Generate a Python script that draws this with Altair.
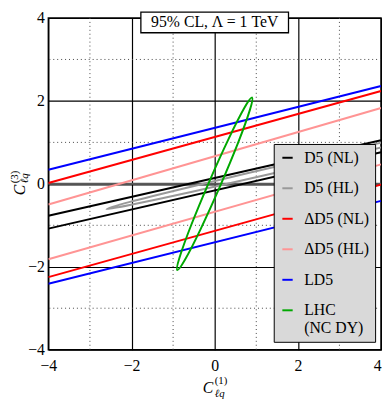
import altair as alt
import pandas as pd

# ---------------- data ----------------
series = ["D5 (NL)", "D5 (HL)", "ΔD5 (NL)", "ΔD5 (HL)", "LD5", "LHC (NC DY)"]
colors = ["#000000", "#999999", "#ff0000", "#ff9494", "#0000ff", "#00a800"]

# straight band edges (value of C3 at C1 = -4 and at C1 = +4)
band_x = [-4, 4]
band_series = ["D5 (NL)", "D5 (NL)", "ΔD5 (NL)", "ΔD5 (NL)",
               "ΔD5 (HL)", "ΔD5 (HL)", "LD5", "LD5"]
band_edge = ["d5u", "d5l", "dd5u", "dd5l", "dhu", "dhl", "ld5u", "ld5l"]
band_y_left = [-0.77, -1.08, 0.02, -2.25, -0.50, -1.82, 0.34, -2.41]
band_y_right = [1.05, 0.76, 2.24, -0.02, 1.83, 0.47, 2.36, -0.41]

# closed contours (outline points)
hl_x = [5.60, 5.04, 3.54, 1.48, -0.57, -2.06, -2.60, -2.04, -0.54, 1.52, 3.57, 5.06]
hl_y = [1.31, 1.21, 0.89, 0.42, -0.07, -0.44, -0.61, -0.51, -0.19, 0.28, 0.77, 1.14]
lhc_x = [0.90, 0.715, 0.338, -0.130, -0.564, -0.845, -0.90, -0.715, -0.338, 0.130, 0.564, 0.845]
lhc_y = [2.08, 1.833, 1.091, 0.056, -0.993, -1.777, -2.08, -1.833, -1.091, -0.056, 0.993, 1.777]

major_ticks = [-4, -2, 0, 2, 4]
minor_ticks = [-3, -1, 1, 3]
title_text = "95% CL, Λ = 1 TeV"

# ---------------- tables ----------------
rows = []
for s, e, yl, yr in zip(band_series, band_edge, band_y_left, band_y_right):
    rows.append({"series": s, "edge": e, "x": band_x[0], "y": yl})
    rows.append({"series": s, "edge": e, "x": band_x[1], "y": yr})
bands = pd.DataFrame(rows)

erows = []
for i, (x, y) in enumerate(zip(hl_x, hl_y)):
    erows.append({"series": "D5 (HL)", "i": i, "x": x, "y": y})
for i, (x, y) in enumerate(zip(lhc_x, lhc_y)):
    erows.append({"series": "LHC (NC DY)", "i": i, "x": x, "y": y})
ellipses = pd.DataFrame(erows)

FONT = "'Liberation Serif', 'Times New Roman', 'DejaVu Serif', serif"
xs = alt.Scale(domain=[-4, 4], nice=False, zero=False)
ys = alt.Scale(domain=[-4, 4], nice=False, zero=False)
xaxis = alt.Axis(values=major_ticks, grid=True, gridColor="black", gridWidth=1.2,
                 gridOpacity=1, domain=False, ticks=False, labelFont=FONT,
                 labelFontSize=16, labelColor="black", labelPadding=8, title=None,
                 labelFlush=False, labelOverlap=False,
                 labelAlign=alt.condition("datum.value >= 4", alt.value("right"),
                                          alt.value("center")))
yaxis = alt.Axis(values=major_ticks, grid=True, gridColor="black", gridWidth=1.2,
                 gridOpacity=1, domain=False, ticks=False, labelFont=FONT,
                 labelFontSize=16, labelColor="black", labelPadding=4, title=None,
                 labelFlush=False, labelOverlap=False)
X = alt.X("x:Q", scale=xs, axis=xaxis)
Y = alt.Y("y:Q", scale=ys, axis=yaxis)

legend = alt.Legend(
    title=None, orient="none", legendX=229, legendY=128, direction="vertical",
    fillColor="#d9d9d9", strokeColor="black", padding=6, symbolType="stroke",
    symbolSize=110, symbolStrokeWidth=2, labelFont=FONT, labelFontSize=16,
    labelColor="black", labelOffset=9, rowPadding=15, labelLimit=200,
    labelExpr="datum.label == 'LHC (NC DY)' ? ['LHC', '(NC DY)'] : datum.label",
)
color = alt.Color("series:N", scale=alt.Scale(domain=series, range=colors), legend=legend)

minor_x = alt.Chart(pd.DataFrame({"x": minor_ticks})).mark_rule(
    color="#444444", strokeWidth=1, strokeDash=[1, 3]).encode(x=X)
minor_y = alt.Chart(pd.DataFrame({"y": minor_ticks})).mark_rule(
    color="#444444", strokeWidth=1, strokeDash=[1, 3]).encode(y=Y)
zero_y = alt.Chart(pd.DataFrame({"y": [0]})).mark_rule(
    color="#5a5a5a", strokeWidth=2).encode(y=Y)

band_layer = alt.Chart(bands).mark_line(strokeWidth=2, clip=True).encode(
    x=X, y=Y, color=color, detail="edge:N")
ell_layer = alt.Chart(ellipses).mark_line(
    strokeWidth=2, clip=True, interpolate="cardinal-closed").encode(
    x=X, y=Y, color=color, detail="series:N", order=alt.Order("i:Q"))

one = pd.DataFrame({"t": [title_text]})
title_box = alt.Chart(one).mark_rect(fill="white", stroke="black", strokeWidth=1.3).encode(
    x=alt.value(94), x2=alt.value(244), y=alt.value(-6), y2=alt.value(15))
title_txt = alt.Chart(one).mark_text(font=FONT, fontSize=16, color="black",
                                     align="center", baseline="alphabetic").encode(
    x=alt.value(169), y=alt.value(9), text="t:N")


def piece(txt, x, y, size, italic=False, angle=0):
    m = alt.Chart(pd.DataFrame({"t": [txt]})).mark_text(
        font=FONT, fontSize=size, color="black", align="left", baseline="alphabetic",
        fontStyle="italic" if italic else "normal", angle=angle)
    return m.encode(x=alt.value(x), y=alt.value(y), text="t:N")


xt_c = piece("C", 157, 381, 16, italic=True)
xt_sup = piece("(1)", 169, 372, 11)
xt_sub = piece("ℓq", 169, 385, 11, italic=True)
yt_c = piece("C", -24, 180, 16, italic=True, angle=270)
yt_sup = piece("(3)", -31, 168, 11, angle=270)
yt_sub = piece("ℓq", -21, 168, 11, italic=True, angle=270)

chart = alt.layer(
    minor_x, minor_y, zero_y, band_layer, ell_layer, title_box, title_txt,
    xt_c, xt_sup, xt_sub, yt_c, yt_sup, yt_sub,
).properties(
    width=338, height=337,
    autosize=alt.AutoSizeParams(type="none"),
    padding={"left": 41, "top": 7, "right": 1, "bottom": 50},
).configure_view(stroke="black", strokeWidth=1.5)

chart.save("out.html", embed_options={"renderer": "svg", "actions": False})
